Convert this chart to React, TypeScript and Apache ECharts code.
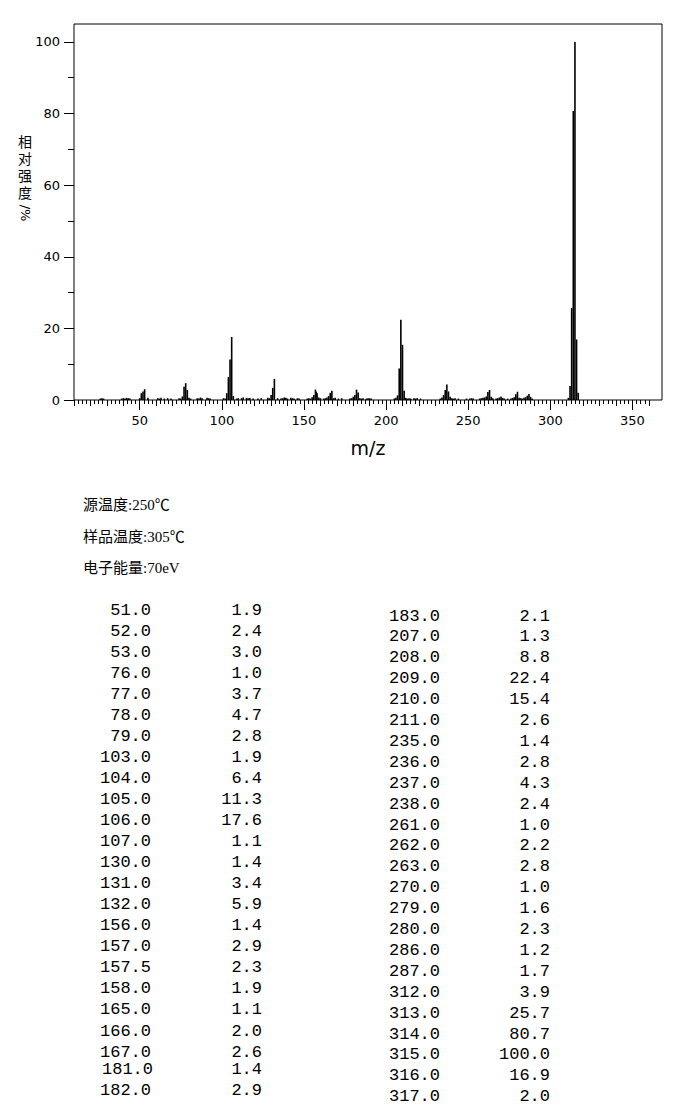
import React, { useEffect, useRef } from "react";
import * as echarts from "echarts";

// Main peaks (table values, m/z and relative intensity %)
const peakMz = [
  51, 52, 53, 76, 77, 78, 79, 103, 104, 105, 106, 107, 130, 131, 132, 156, 157, 157.5, 158, 165, 166, 167, 181, 182,
  183, 207, 208, 209, 210, 211, 235, 236, 237, 238, 261, 262, 263, 270, 279, 280, 286, 287, 312, 313, 314, 315, 316, 317,
];
const peakIntensity = [
  1.9, 2.4, 3.0, 1.0, 3.7, 4.7, 2.8, 1.9, 6.4, 11.3, 17.6, 1.1, 1.4, 3.4, 5.9, 1.4, 2.9, 2.3, 1.9, 1.1, 2.0, 2.6, 1.4, 2.9,
  2.1, 1.3, 8.8, 22.4, 15.4, 2.6, 1.4, 2.8, 4.3, 2.4, 1.0, 2.2, 2.8, 1.0, 1.6, 2.3, 1.2, 1.7, 3.9, 25.7, 80.7, 100.0, 16.9, 2.0,
];

// Small (<1%) peaks
const minorMz = [
  26, 27, 28, 39, 40, 41, 42, 43, 44, 50, 55, 61, 62, 63, 65, 67, 69, 74, 75, 80, 81, 85, 86, 87, 88, 91, 92, 93, 101, 102,
  109, 110, 112, 113, 115, 116, 117, 119, 122, 124, 128, 129, 134, 136, 137, 138, 139, 140, 142, 143, 144, 146, 147,
  152, 153, 154, 155, 159, 160, 162, 163, 164, 168, 169, 171, 173, 178, 179, 180, 184, 185, 186, 188, 189, 190, 191,
  205, 206, 212, 213, 214, 215, 217, 218, 219, 221, 233, 234, 239, 240, 241, 242, 244, 249, 251, 252, 253, 257, 258,
  259, 260, 264, 265, 267, 268, 269, 271, 272, 274, 276, 277, 278, 281, 282, 283, 284, 285, 288, 289, 311,
];
const minorIntensity = [
  0.4, 0.5, 0.4, 0.4, 0.5, 0.4, 0.6, 0.5, 0.4, 0.5, 0.6, 0.5, 0.4, 0.6, 0.4, 0.5, 0.4, 0.5, 0.4, 0.6, 0.4, 0.5, 0.4, 0.7,
  0.5, 0.6, 0.5, 0.4, 0.5, 0.4, 0.4, 0.5, 0.5, 0.7, 0.6, 0.5, 0.6, 0.4, 0.4, 0.5, 0.6, 0.5, 0.5, 0.4, 0.5, 0.7, 0.6,
  0.4, 0.6, 0.5, 0.4, 0.5, 0.4, 0.4, 0.5, 0.4, 0.8, 0.7, 0.5, 0.4, 0.5, 0.7, 0.5, 0.6, 0.4, 0.5, 0.4, 0.5, 0.9, 0.5,
  0.4, 0.5, 0.4, 0.5, 0.5, 0.4, 0.4, 0.6, 0.6, 0.4, 0.5, 0.4, 0.5, 0.4, 0.5, 0.4, 0.4, 0.7, 0.9, 0.5, 0.4, 0.5, 0.4,
  0.4, 0.4, 0.5, 0.4, 0.4, 0.5, 0.6, 0.7, 0.9, 0.5, 0.4, 0.5, 0.7, 0.6, 0.4, 0.4, 0.4, 0.6, 0.8, 0.6, 0.5, 0.4, 0.6,
  0.8, 0.9, 0.4, 0.6,
];

const xTickLabels = [50, 100, 150, 200, 250, 300, 350];
const yTickLabels = [0, 20, 40, 60, 80, 100];
const yMinorTicks = [10, 30, 50, 70, 90];

const infoLines = ["源温度:250℃", "样品温度:305℃", "电子能量:70eV"];
const yAxisTitle = "相对强度";
const yAxisUnit = "/%";
const xAxisTitle = "m/z";

const X_MIN = 10;
const X_MAX = 368;
const Y_MAX = 105;

export default function App() {
  const ref = useRef<HTMLDivElement>(null);

  useEffect(() => {
    if (!ref.current) return;
    const chart = echarts.init(ref.current, undefined, { renderer: "svg" });

    const barData: [number, number][] = [];
    peakMz.forEach((m, i) => barData.push([m, peakIntensity[i]]));
    minorMz.forEach((m, i) => barData.push([m, minorIntensity[i]]));
    barData.sort((a, b) => a[0] - b[0]);

    const fineTicks: number[] = [];
    const tenTicks: number[] = [];
    for (let v = 10; v <= 360.01; v += 2.5) {
      if (v % 10 !== 0) fineTicks.push(v);
      else if (v % 50 !== 0) tenTicks.push(v);
    }

    const axisFont = { fontFamily: "DejaVu Sans", fontSize: 13, color: "#000" };
    const black = { color: "#000", width: 1 };

    const graphics: any[] = [];
    // vertical y-axis title, one upright character per line
    yAxisTitle.split("").forEach((ch, i) => {
      graphics.push({
        type: "text",
        x: 25,
        y: 141 + i * 17,
        style: {
          text: ch,
          fontFamily: "Noto Sans CJK SC",
          fontSize: 14,
          lineHeight: 14,
          align: "center",
          verticalAlign: "middle",
          fill: "#000",
        },
      });
    });
    graphics.push({
      type: "text",
      x: 25,
      y: 213,
      rotation: -Math.PI / 2,
      style: {
        text: yAxisUnit,
        fontFamily: "DejaVu Sans",
        fontSize: 13,
        lineHeight: 13,
        align: "center",
        verticalAlign: "middle",
        fill: "#000",
      },
    });
    infoLines.forEach((t, i) => {
      graphics.push({
        type: "text",
        x: 83,
        y: 505 + i * 31.5,
        style: {
          text: t,
          fontFamily: '"Liberation Serif", "Noto Sans CJK SC", serif',
          fontSize: 15,
          align: "left",
          verticalAlign: "middle",
          fill: "#000",
        },
      });
    });

    const half = 24;
    const monoFont = '"Liberation Mono", "DejaVu Sans Mono", monospace';
    const cellStyle = (text: string) => ({
      text,
      fontFamily: monoFont,
      fontSize: 17,
      lineHeight: 13,
      align: "right",
      verticalAlign: "middle",
      fill: "#000",
    });
    peakMz.forEach((m, i) => {
      let xm: number, xi: number, y: number;
      if (i < half) {
        xm = 151;
        xi = 262;
        if (i < 22) y = 610 + i * 21.05;
        else if (i === 22) {
          y = 1069;
          xm += 2;
        } else y = 1090;
      } else {
        const r = i - half;
        xm = 440;
        xi = 550;
        y = 616 + r * 20.9;
      }
      graphics.push({ type: "text", x: xm, y, style: cellStyle(m.toFixed(1)) });
      graphics.push({ type: "text", x: xi, y, style: cellStyle(peakIntensity[i].toFixed(1)) });
    });

    chart.setOption({
      animation: false,
      backgroundColor: "#fff",
      grid: {
        left: 74,
        top: 24,
        width: 588,
        height: 376,
        show: true,
        borderColor: "#000",
        borderWidth: 1,
        backgroundColor: "transparent",
      },
      xAxis: [
        {
          type: "value",
          min: X_MIN,
          max: X_MAX,
          position: "bottom",
          axisLine: { show: false },
          splitLine: { show: false },
          axisTick: { show: true, length: 10, lineStyle: black, customValues: xTickLabels },
          axisLabel: { ...axisFont, margin: 14, customValues: xTickLabels },
          name: xAxisTitle,
          nameLocation: "middle",
          nameGap: 38,
          nameTextStyle: { fontFamily: "DejaVu Sans", fontSize: 19, color: "#000" },
        },
        {
          type: "value",
          min: X_MIN,
          max: X_MAX,
          position: "bottom",
          axisLine: { show: false },
          splitLine: { show: false },
          axisTick: { show: true, length: 4, lineStyle: black, customValues: fineTicks },
          axisLabel: { show: false },
        },
        {
          type: "value",
          min: X_MIN,
          max: X_MAX,
          position: "bottom",
          axisLine: { show: false },
          splitLine: { show: false },
          axisTick: { show: true, length: 6, lineStyle: black, customValues: tenTicks },
          axisLabel: { show: false },
        },
      ],
      yAxis: [
        {
          type: "value",
          min: 0,
          max: Y_MAX,
          position: "left",
          axisLine: { show: false },
          splitLine: { show: false },
          axisTick: { show: true, length: 10, lineStyle: black, customValues: yTickLabels },
          axisLabel: { ...axisFont, margin: 14, customValues: yTickLabels },
        },
        {
          type: "value",
          min: 0,
          max: Y_MAX,
          position: "left",
          axisLine: { show: false },
          splitLine: { show: false },
          axisTick: { show: true, length: 6, lineStyle: black, customValues: yMinorTicks },
          axisLabel: { show: false },
        },
      ],
      series: [
        {
          type: "bar",
          xAxisIndex: 0,
          yAxisIndex: 0,
          data: barData,
          barWidth: 1.6,
          itemStyle: { color: "#000" },
          silent: true,
        },
      ],
      graphic: graphics,
    });

    return () => chart.dispose();
  }, []);

  return (
    <div
      ref={ref}
      style={{ position: "fixed", left: 0, top: 0, width: 687, height: 1107, background: "#fff" }}
    />
  );
}
